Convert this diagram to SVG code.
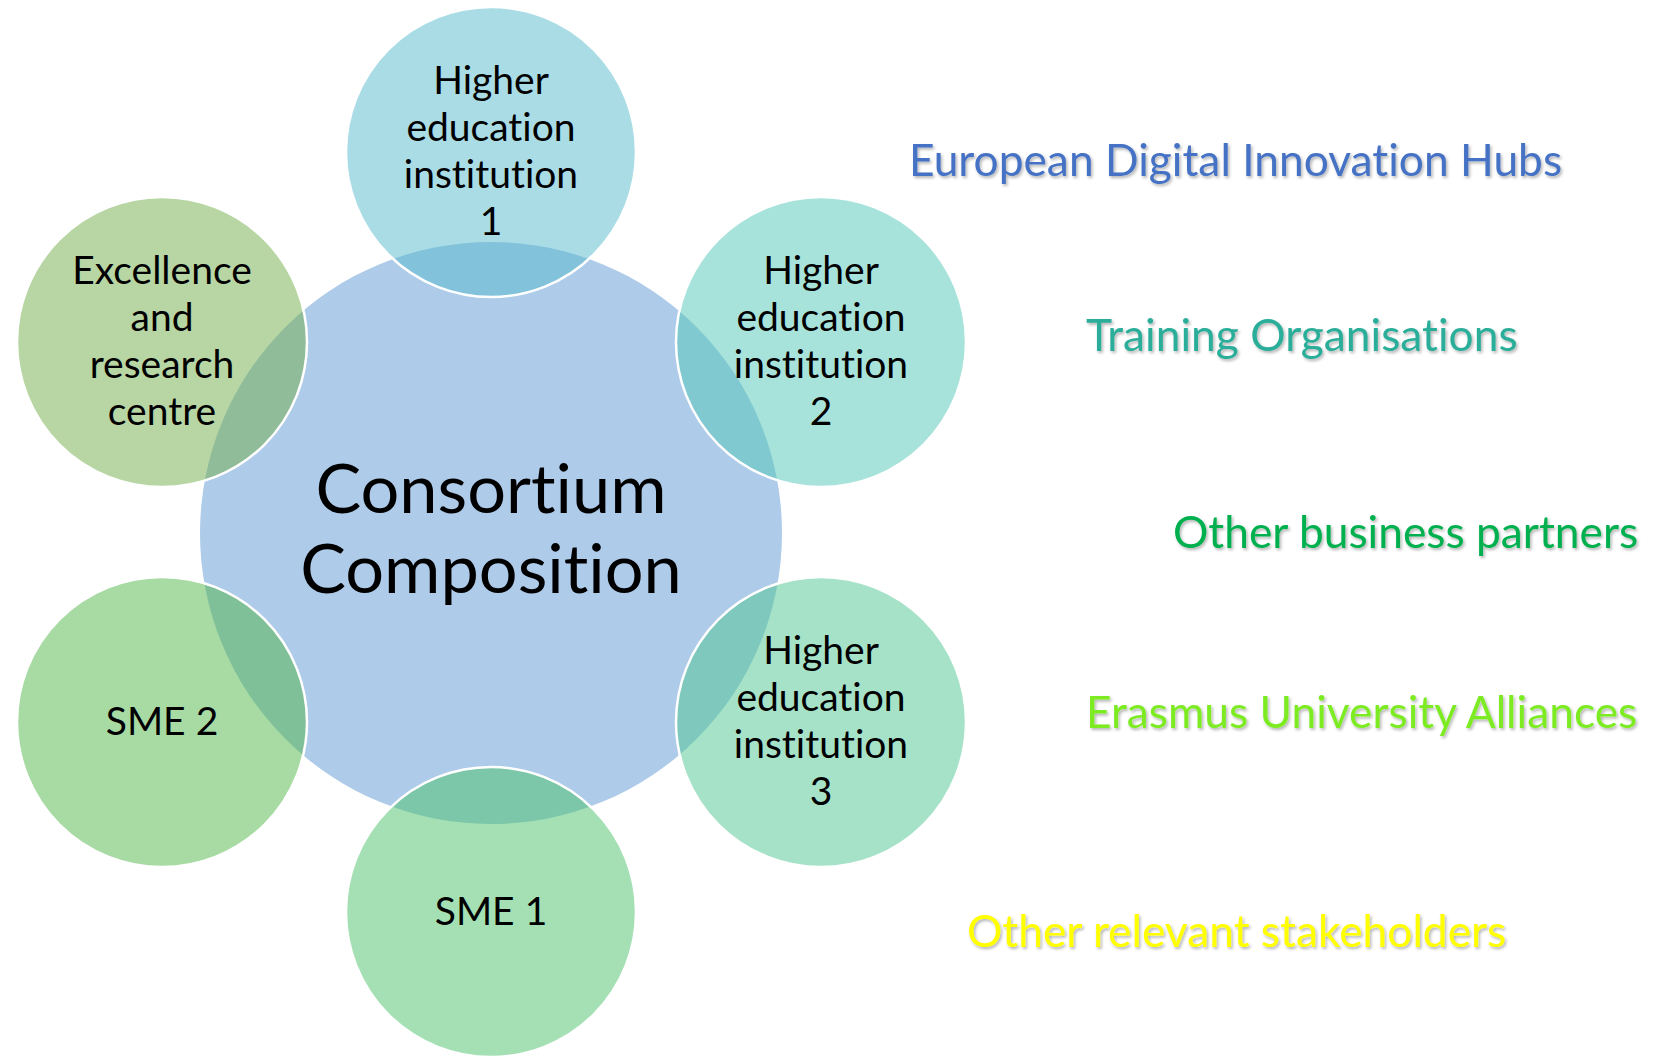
<svg xmlns="http://www.w3.org/2000/svg" width="1667" height="1056" viewBox="0 0 1667 1056">
  <defs>
    <filter id="shadow" x="-5%" y="-30%" width="110%" height="160%">
      <feDropShadow dx="1.5" dy="2" stdDeviation="1.5" flood-color="#000" flood-opacity="0.3"/>
    </filter>
  </defs>
  <style>
    text { font-variant-ligatures: none; font-feature-settings: "liga" 0, "dlig" 0, "clig" 0; }
    .outer { stroke: #ffffff; stroke-width: 2.5; fill-opacity: 0.5; }
    .lbl { font-family: Lato, "Open Sans", sans-serif; font-size: 39px; fill: #000; text-anchor: middle; }
    .big { font-family: Lato, "Open Sans", sans-serif; font-size: 68.5px; fill: #000; text-anchor: middle; }
    .side { font-family: Lato, "Open Sans", sans-serif; font-size: 44.3px; filter: url(#shadow); }
  </style>
  <rect width="1667" height="1056" fill="#ffffff"/>

  <g id="center">
    <circle cx="491" cy="533" r="291" fill="#AECBE9"/>
  </g>

  <g id="connectors"></g>

  <g id="node-hei1">
    <circle class="outer" cx="491" cy="152" r="145" fill="#55B9CD"/>
    <text class="lbl" x="491" y="94">Higher</text>
    <text class="lbl" x="491" y="141">education</text>
    <text class="lbl" x="491" y="188">institution</text>
    <text class="lbl" x="491" y="235">1</text>
  </g>

  <g id="node-hei2">
    <circle class="outer" cx="821" cy="342" r="145" fill="#51C7B7"/>
    <text class="lbl" x="821" y="284">Higher</text>
    <text class="lbl" x="821" y="331">education</text>
    <text class="lbl" x="821" y="378">institution</text>
    <text class="lbl" x="821" y="425">2</text>
  </g>

  <g id="node-hei3">
    <circle class="outer" cx="821" cy="722" r="145" fill="#4DC591"/>
    <text class="lbl" x="821" y="664">Higher</text>
    <text class="lbl" x="821" y="711">education</text>
    <text class="lbl" x="821" y="758">institution</text>
    <text class="lbl" x="821" y="805">3</text>
  </g>

  <g id="node-sme1">
    <circle class="outer" cx="491" cy="912" r="145" fill="#49C169"/>
    <text class="lbl" x="491" y="925">SME 1</text>
  </g>

  <g id="node-sme2">
    <circle class="outer" cx="162" cy="722" r="145" fill="#51B549"/>
    <text class="lbl" x="162" y="735">SME 2</text>
  </g>

  <g id="node-excellence">
    <circle class="outer" cx="162" cy="342" r="145" fill="#71AD49"/>
    <text class="lbl" x="162" y="284">Excellence</text>
    <text class="lbl" x="162" y="331">and</text>
    <text class="lbl" x="162" y="378">research</text>
    <text class="lbl" x="162" y="425">centre</text>
  </g>

  <g id="center-label">
    <text class="big" x="491" y="513">Consortium</text>
    <text class="big" x="491" y="593">Composition</text>
  </g>

  <g id="side-labels">
    <text class="side" x="909" y="176" fill="#4472C4">European Digital Innovation Hubs</text>
    <text class="side" x="1086" y="351" fill="#2BAE9A">Training Organisations</text>
    <text class="side" x="1173" y="548" fill="#00B050">Other business partners</text>
    <text class="side" x="1086" y="728" fill="#7DEB24">Erasmus University Alliances</text>
    <text class="side" x="967" y="947" fill="#FFFF00">Other relevant stakeholders</text>
  </g>
</svg>
